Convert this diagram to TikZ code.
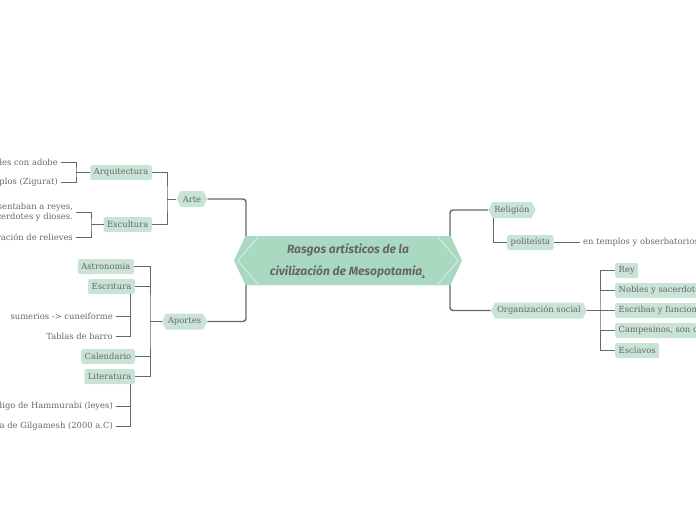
\documentclass[tikz,border=0pt]{standalone}
\usepackage{fontspec}
\setmainfont{DejaVu Serif}
\newfontfamily\titlefont{Fira Sans}
\usetikzlibrary{shapes.symbols}
\definecolor{nodefill}{HTML}{C9E4D6}
\definecolor{mainfill}{HTML}{AAD9C1}
\definecolor{txt}{HTML}{666666}
\definecolor{ln}{HTML}{5B6D63}
\tikzset{
  lbl/.style={font=\fontsize{8.4}{10.5}\selectfont, text=txt, inner xsep=3pt, inner ysep=1pt},
  box/.style={lbl, fill=nodefill, rounded corners=2pt, minimum height=15pt, inner xsep=3.5pt},
  hexa/.style={lbl, fill=nodefill, shape=signal, signal to=east and west, signal pointer angle=125, minimum height=16pt, inner xsep=2pt},
  conn/.style={draw=ln, line width=1pt},
  mainconn/.style={draw=ln, line width=1.4pt, rounded corners=3pt},
}
\begin{document}
\begin{tikzpicture}[x=1pt,y=-1pt]
\useasboundingbox (0,0) rectangle (696,520);
% coordinates for central connections
\coordinate (cTL) at (246,238);
\coordinate (cBL) at (246,283);
\coordinate (cTR) at (450,238);
\coordinate (cBR) at (450,283);
% Left: Arte
\node[hexa] (arte) at (192,199) {Arte};
\node[box, anchor=east] (arq) at (152,172.5) {Arquitectura};
\node[box, anchor=east] (esc) at (152,224.5) {Escultura};
\node[lbl, anchor=east] (t1) at (61,162) {Paredes con adobe};
\node[lbl, anchor=east] (t2) at (61,182) {Templos (Zigurat)};
\node[lbl, anchor=east, align=right] (t3) at (76,212) {Representaban a reyes,\\sacerdotes y dioses.};
\node[lbl, anchor=east] (t4) at (76,237) {Elaboración de relieves};
\coordinate (ja) at (167,199);
\coordinate (jq) at (76,172.5);
\coordinate (je) at (91,224.5);
% Left: Aportes
\node[hexa] (aportes) at (184.5,321.5) {Aportes};
\node[box, anchor=east] (astro) at (134,266.5) {Astronomia};
\node[box, anchor=east] (escr) at (135,286.5) {Escritura};
\node[box, anchor=east] (cal) at (135,356.5) {Calendario};
\node[box, anchor=east] (lit) at (135,376.5) {Literatura};
\node[lbl, anchor=east] (s1) at (116,316) {sumerios -> cuneiforme};
\node[lbl, anchor=east] (s2) at (116,336) {Tablas de barro};
\node[lbl, anchor=east] (l1) at (116,406) {Código de Hammurabi (leyes)};
\node[lbl, anchor=east] (l2) at (116,426) {Epopeya de Gilgamesh (2000 a.C)};
\coordinate (jp) at (150,321.5);
\coordinate (jw) at (130,294);
\coordinate (jl) at (130,384);
% Right
\node[hexa] (rel) at (512,210) {Religión};
\node[box, anchor=west] (poli) at (507,242.5) {politeísta};
\node[lbl, anchor=west] (temp) at (580,242.5) {en templos y obserbatorios};
\coordinate (jr) at (493,218);
\node[hexa] (org) at (539,310.5) {Organización social};
\node[box, anchor=west] (rey) at (615,270.5) {Rey};
\node[box, anchor=west] (nob) at (615,290.5) {Nobles y sacerdotes};
\node[box, anchor=west] (escb) at (615,310.5) {Escribas y funcionarios};
\node[box, anchor=west] (camp) at (615,330.5) {Campesinos, son comerciantes};
\node[box, anchor=west] (escl) at (615,350.5) {Esclavos};
\coordinate (jo) at (600,310.5);
% connectors
\draw[mainconn] (arte.east) -| (cTL);
\draw[mainconn] (aportes.east) -| (cBL);
\draw[mainconn] (rel.west) -| (cTR);
\draw[mainconn] (org.west) -| (cBR);
\draw[conn] (arte.west) -- (ja);
\draw[conn] (arq.east) -| (ja) |- (esc.east);
\draw[conn] (arq.west) -- (jq);
\draw[conn] (t1.east) -| (jq) |- (t2.east);
\draw[conn] (esc.west) -- (je);
\draw[conn] (t3.east) -| (je) |- (t4.east);
\draw[conn] (aportes.west) -- (jp);
\draw[conn] (astro.east) -| (jp) |- (lit.east);
\draw[conn] (escr.east) -- (escr.east -| jp);
\draw[conn] (cal.east) -- (cal.east -| jp);
\draw[conn] (jw) |- (s1.east);
\draw[conn] (jw) |- (s2.east);
\draw[conn] (jl) |- (l1.east);
\draw[conn] (jl) |- (l2.east);
\draw[conn] (jr) |- (poli.west);
\draw[conn] (poli.east) -- (temp.west);
\draw[conn, line width=1.4pt] (org.east) -- (jo);
\draw[conn] (rey.west) -| (jo) |- (escl.west);
\draw[conn] (nob.west) -- (nob.west -| jo);
\draw[conn] (escb.west) -- (jo);
\draw[conn] (camp.west) -- (camp.west -| jo);
% central node
\node[shape=signal, signal to=east and west, signal pointer angle=130, fill=mainfill, minimum width=228pt, minimum height=49pt, inner sep=0pt] (central) at (348,260.5) {};
\draw[white, opacity=0.6, line width=0.8pt] ([xshift=4pt]central.west) -- ([xshift=13pt,yshift=-1pt]central.north west);
\draw[white, opacity=0.6, line width=0.8pt] ([xshift=4pt]central.west) -- ([xshift=13pt,yshift=1pt]central.south west);
\draw[white, opacity=0.6, line width=0.8pt] ([xshift=-4pt]central.east) -- ([xshift=-13pt,yshift=-1pt]central.north east);
\draw[white, opacity=0.6, line width=0.8pt] ([xshift=-4pt]central.east) -- ([xshift=-13pt,yshift=1pt]central.south east);
\node[text=txt, font=\titlefont\itshape\bfseries\fontsize{12}{22}\selectfont, align=center] (title) at (348,261) {Rasgos artísticos de la\\civilización de Mesopotamia¸};
\end{tikzpicture}
\end{document}
